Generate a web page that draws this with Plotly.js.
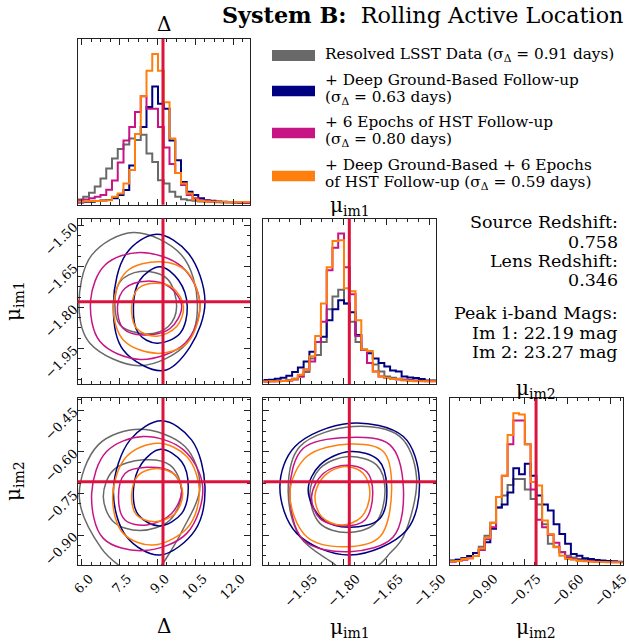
<!DOCTYPE html>
<html><head><meta charset="utf-8">
<script src="https://cdn.plot.ly/plotly-3.0.1.min.js"></script>
<style>html,body{margin:0;padding:0;background:#fff}#chart{width:629px;height:644px}</style>
</head><body><div id="chart"></div>
<script>
// ---------- data ----------
const deltaRange = [5.84, 12.66];
const mu1Range = [-2.080, -1.475];
const mu2Range = [-1.008, -0.406];
const truthDelta = 9.22, truthMu1 = -1.779, truthMu2 = -0.708;

const seriesColors = ['#696969', '#000080', '#c71585', '#ff7f0e'];
const legendLines = [
  ['Resolved LSST Data (σ<sub>Δ</sub> = 0.91 days)'],
  ['+ Deep Ground-Based Follow-up', '(σ<sub>Δ</sub> = 0.63 days)'],
  ['+ 6 Epochs of HST Follow-up', '(σ<sub>Δ</sub> = 0.80 days)'],
  ['+ Deep Ground-Based + 6 Epochs', 'of HST Follow-up (σ<sub>Δ</sub> = 0.59 days)']
];
const infoLines = ['Source Redshift:', '0.758', 'Lens Redshift:', '0.346', 'Peak i-band Mags:', 'Im 1: 22.19 mag', 'Im 2: 23.27 mag'];

// 1D histograms (30 bins across each axis range), relative heights
const histDeltaGray    = [3.5,5.3,8,12,17.4,24,30.6,37,40,44,43,46.5,34,28.4,16.3,14,8.6,5.3,3.7,3,2.6,2.2,2,1.8,1.6,1.5,1.4,1.3,1.2,1.2];
const histDeltaNavy    = [1.5,1.8,2,2.4,2.8,3.2,4.2,6.4,9.7,26,47,51.5,64.8,78.4,67,63.7,42.7,29.5,15,8.6,6.4,4.2,3,2.6,2.2,2,1.8,1.8,1.6,1.5];
const histDeltaMagenta = [3,3.5,4.2,5.3,6.4,10,16,28,42.7,51.5,61.5,72,63.7,63.7,51.5,38,27,21,13,6.4,4.2,3,2.6,2.2,2,1.8,1.6,1.5,1.4,1.3];
const histDeltaOrange  = [2,2.2,2.4,2.4,2.6,3,5.3,7.5,14,23,47,72,89,100,89,68,44,21,14,7.5,3.5,2.4,2.2,2,2,1.8,1.8,1.8,1.8,1.8];

const histMu1Gray    = [1.6,1.8,2,2.2,2.6,3.5,5,8,17,19.4,28,50,58.5,63,53.7,41.5,28,23,14,13,8.4,5,4.2,3.5,3,2.6,2.4,2.2,2,2];
const histMu1Navy    = [2.6,2.9,3.5,4.2,5.5,8,11,15,21.6,28,31.6,42.6,50,56,53.7,48,32.7,22.7,20.5,17,14,11.7,9,8.4,5,4.4,4,3.3,2.4,2.4];
const histMu1Magenta = [1.6,1.8,1.8,2,2.2,3,5,9.7,15,28,41.5,76,91,100.5,78,60,32,22.7,14,8.4,5,4,3.3,3,2.6,2.4,2.2,2,1.8,1.8];
const histMu1Orange  = [1.6,1.8,1.8,2,2.4,3.5,6.2,9.5,18.5,32,53.7,78,95.6,96,64,62,42.6,23,22,8.4,5,4,3.3,3.3,2.4,2,1.8,1.8,1.8,1.8];

const histMu2Gray    = [2.6,3.5,4.4,6,8,12,19.4,28,38,46,53,57,57,50,43.7,40,27,14,12,8.6,6.2,5,4,3.5,3,2.6,2.4,2.2,2,2];
const histMu2Navy    = [3,3.5,4.4,6,8,10,15,24,38,40,48,64,60,67,59,46,40,36,27,20.5,14,7.3,6.2,4.4,4,3.3,3,2.6,2.4,2.2];
const histMu2Magenta = [2.2,2.6,3.5,4.4,6,10,17,25,45,59,80,95.6,95.6,80,50,30,25,20,14.8,8.4,5,4,3,2.6,2.4,2.2,2,2,1.8,1.8];
const histMu2Orange  = [2.4,2.6,4,4.4,6,11,18,28,45,59,86,100.5,99.6,80,55,52.6,29.4,20.5,11.7,6.2,4,3.5,2.6,2.4,2.2,2,2,1.8,1.8,1.8];

// 2D contours, [x, y] in data units (Δ vs μim1)
const dm1GrayOuter    = [[10.58,-1.785],[9.96,-1.609],[8.05,-1.526],[6.40,-1.609],[5.90,-1.797],[6.33,-1.931],[8.31,-2.013],[10.16,-1.931]];
const dm1GrayInner    = [[9.76,-1.797],[9.37,-1.694],[8.31,-1.669],[7.52,-1.706],[7.32,-1.791],[7.52,-1.864],[8.58,-1.897],[9.43,-1.870]];
const dm1NavyOuter    = [[10.88,-1.779],[10.22,-1.602],[8.97,-1.533],[7.78,-1.602],[7.26,-1.785],[7.65,-1.956],[9.23,-2.031],[10.29,-1.944]];
const dm1NavyInner    = [[10.18,-1.797],[9.83,-1.700],[9.10,-1.651],[8.31,-1.700],[8.05,-1.797],[8.25,-1.895],[8.97,-1.931],[9.89,-1.895]];
const dm1MagentaOuter = [[10.68,-1.785],[9.96,-1.651],[8.31,-1.599],[6.93,-1.645],[6.36,-1.773],[6.73,-1.925],[8.31,-1.990],[10.09,-1.931]];
const dm1MagentaInner = [[9.96,-1.797],[9.50,-1.727],[8.58,-1.704],[7.72,-1.730],[7.42,-1.797],[7.65,-1.877],[8.44,-1.901],[9.50,-1.877]];
const dm1OrangeOuter  = [[10.68,-1.797],[10.16,-1.669],[9.10,-1.633],[7.78,-1.669],[7.26,-1.797],[7.65,-1.919],[8.97,-1.968],[10.16,-1.931]];
const dm1OrangeInner  = [[10.03,-1.797],[9.63,-1.730],[8.97,-1.712],[8.25,-1.730],[7.98,-1.797],[8.18,-1.877],[8.97,-1.905],[9.76,-1.870]];

// Δ vs μim2
const dm2GrayOuter    = [[10.68,-0.726],[10.09,-0.581],[8.31,-0.519],[6.66,-0.575],[5.91,-0.762],[6.80,-0.950],[7.62,-1.020],[8.35,-1.070],[9.10,-1.015],[9.55,-0.954],[9.95,-0.890]];
const dm2GrayInner    = [[9.96,-0.738],[9.50,-0.648],[8.44,-0.629],[7.26,-0.666],[6.86,-0.762],[7.26,-0.852],[8.31,-0.884],[9.50,-0.846]];
const dm2NavyOuter    = [[10.88,-0.726],[10.35,-0.557],[9.17,-0.488],[7.92,-0.557],[7.26,-0.738],[7.78,-0.906],[9.10,-0.972],[10.49,-0.882]];
const dm2NavyInner    = [[10.22,-0.726],[9.96,-0.636],[9.13,-0.591],[8.38,-0.642],[8.05,-0.738],[8.25,-0.828],[9.10,-0.867],[9.96,-0.822]];
const dm2MagentaOuter = [[10.79,-0.726],[10.03,-0.593],[8.44,-0.545],[6.99,-0.599],[6.40,-0.750],[6.86,-0.912],[8.44,-0.956],[10.16,-0.894]];
const dm2MagentaInner = [[9.96,-0.738],[9.56,-0.672],[8.58,-0.656],[7.72,-0.678],[7.46,-0.762],[7.72,-0.846],[8.58,-0.864],[9.56,-0.822]];
const dm2OrangeOuter  = [[10.66,-0.738],[10.16,-0.617],[9.04,-0.569],[7.78,-0.617],[7.23,-0.762],[7.65,-0.894],[8.84,-0.936],[10.22,-0.870]];
const dm2OrangeInner  = [[10.00,-0.750],[9.70,-0.684],[8.97,-0.660],[8.25,-0.684],[7.98,-0.756],[8.18,-0.828],[8.90,-0.852],[9.70,-0.822]];

// μim1 vs μim2
const m12GrayOuter    = [[-1.544,-0.690],[-1.602,-0.545],[-1.765,-0.509],[-1.952,-0.581],[-1.993,-0.738],[-1.952,-0.906],[-1.835,-1.002],[-1.765,-1.050],[-1.683,-1.014],[-1.637,-0.966],[-1.590,-0.906]];
const m12GrayInner    = [[-1.654,-0.738],[-1.683,-0.648],[-1.783,-0.617],[-1.882,-0.660],[-1.917,-0.750],[-1.882,-0.858],[-1.788,-0.891],[-1.689,-0.858]];
const m12NavyOuter    = [[-1.534,-0.702],[-1.590,-0.545],[-1.777,-0.497],[-1.969,-0.581],[-2.022,-0.726],[-1.963,-0.894],[-1.777,-0.972],[-1.578,-0.882]];
const m12NavyInner    = [[-1.648,-0.726],[-1.678,-0.629],[-1.777,-0.599],[-1.882,-0.648],[-1.923,-0.738],[-1.876,-0.840],[-1.777,-0.872],[-1.672,-0.840]];
const m12MagentaOuter = [[-1.590,-0.726],[-1.637,-0.575],[-1.777,-0.548],[-1.940,-0.587],[-1.987,-0.738],[-1.940,-0.918],[-1.777,-0.960],[-1.625,-0.906]];
const m12MagentaInner = [[-1.697,-0.750],[-1.718,-0.672],[-1.788,-0.648],[-1.870,-0.678],[-1.911,-0.762],[-1.882,-0.840],[-1.800,-0.867],[-1.724,-0.846]];
const m12OrangeOuter  = [[-1.631,-0.738],[-1.660,-0.599],[-1.777,-0.572],[-1.928,-0.617],[-1.987,-0.750],[-1.928,-0.906],[-1.788,-0.942],[-1.672,-0.906]];
const m12OrangeInner  = [[-1.707,-0.750],[-1.730,-0.678],[-1.794,-0.653],[-1.864,-0.684],[-1.899,-0.756],[-1.876,-0.834],[-1.806,-0.864],[-1.736,-0.834]];

// ---------- drawing ----------
const FONT = 'DejaVu Serif';
const W = 629, H = 644;
const px = X => X / W, py = Y => 1 - Y / H;
const TRUTH = '#dc143c';
const traces = [];

function stepTrace(counts, range, color, xa, ya) {
  const w = (range[1] - range[0]) / counts.length;
  const xs = [], ys = [];
  counts.forEach((c, i) => { xs.push(range[0] + i * w); ys.push(c); });
  xs.push(range[1]); ys.push(counts[counts.length - 1]);
  return {type: 'scatter', mode: 'lines', x: xs, y: ys, xaxis: xa, yaxis: ya,
    line: {shape: 'hv', color: color, width: 2}, hoverinfo: 'skip', showlegend: false};
}
function contourTrace(pts, color, xa, ya) {
  const all = pts.concat([pts[0]]);
  return {type: 'scatter', mode: 'lines', x: all.map(p => p[0]), y: all.map(p => p[1]),
    xaxis: xa, yaxis: ya, line: {shape: 'spline', smoothing: 1, color: color, width: 1.5},
    hoverinfo: 'skip', showlegend: false};
}

[histDeltaGray, histDeltaNavy, histDeltaMagenta, histDeltaOrange].forEach((h, i) => traces.push(stepTrace(h, deltaRange, seriesColors[i], 'x', 'y')));
[histMu1Gray, histMu1Navy, histMu1Magenta, histMu1Orange].forEach((h, i) => traces.push(stepTrace(h, mu1Range, seriesColors[i], 'x3', 'y3')));
[histMu2Gray, histMu2Navy, histMu2Magenta, histMu2Orange].forEach((h, i) => traces.push(stepTrace(h, mu2Range, seriesColors[i], 'x6', 'y6')));

[[dm1GrayOuter, dm1GrayInner], [dm1NavyOuter, dm1NavyInner], [dm1MagentaOuter, dm1MagentaInner], [dm1OrangeOuter, dm1OrangeInner]]
  .forEach((cs, i) => cs.forEach(c => traces.push(contourTrace(c, seriesColors[i], 'x2', 'y2'))));
[[dm2GrayOuter, dm2GrayInner], [dm2NavyOuter, dm2NavyInner], [dm2MagentaOuter, dm2MagentaInner], [dm2OrangeOuter, dm2OrangeInner]]
  .forEach((cs, i) => cs.forEach(c => traces.push(contourTrace(c, seriesColors[i], 'x4', 'y4'))));
[[m12GrayOuter, m12GrayInner], [m12NavyOuter, m12NavyInner], [m12MagentaOuter, m12MagentaInner], [m12OrangeOuter, m12OrangeInner]]
  .forEach((cs, i) => cs.forEach(c => traces.push(contourTrace(c, seriesColors[i], 'x5', 'y5'))));

const maxOf = arrs => Math.max(...arrs.map(a => Math.max(...a)));
const yMaxDelta = 1.1 * maxOf([histDeltaGray, histDeltaNavy, histDeltaMagenta, histDeltaOrange]);
const yMaxMu1 = 1.1 * maxOf([histMu1Gray, histMu1Navy, histMu1Magenta, histMu1Orange]);
const yMaxMu2 = 1.1 * maxOf([histMu2Gray, histMu2Navy, histMu2Magenta, histMu2Orange]);

const colX = [[77.5, 250], [263.3, 436.2], [450, 622.7]].map(d => [px(d[0]), px(d[1])]);
const rowY = [[204.7, 39], [384, 218.5], [565, 398]].map(d => [py(d[0]), py(d[1])]);

const tickDefs = {
  delta: {tick0: 6, dtick: 1.5, tickformat: '.1f', minor: 0.375, shift: 8},
  mu1: {tick0: -1.95, dtick: 0.15, tickformat: '.2f', minor: 0.0375, shift: 13},
  mu2: {tick0: -0.9, dtick: 0.15, tickformat: '.2f', minor: 0.0375, shift: 13}
};
function axis(domain, anchor, range, kind, labels, isX) {
  const t = tickDefs[kind];
  const a = {domain: domain, anchor: anchor, range: range, showline: true, linecolor: '#222', linewidth: 1,
    mirror: 'allticks', ticks: 'inside', ticklen: 6, tickwidth: 1, tickcolor: '#222',
    showgrid: false, zeroline: false, fixedrange: true,
    tickmode: 'linear', tick0: t.tick0, dtick: t.dtick, tickformat: t.tickformat,
    minor: {ticks: 'inside', ticklen: 3, tickcolor: '#222', tick0: t.tick0, dtick: t.minor, showgrid: false},
    showticklabels: labels, tickangle: -45, ticklabeloverflow: 'allow',
    tickfont: {family: FONT, size: 13, color: '#000'}};
  if (labels && isX) { a.ticklabelshift = t.shift; a.ticklabelstandoff = 0; }
  return a;
}
function histY(domain, anchor, ymax) {
  return {domain: domain, anchor: anchor, range: [0, ymax], showline: true, linecolor: '#222', linewidth: 1,
    mirror: true, ticks: '', showticklabels: false, showgrid: false, zeroline: false, fixedrange: true};
}

const layout = {
  width: W, height: H, margin: {l: 0, r: 0, t: 0, b: 0}, paper_bgcolor: '#fff', plot_bgcolor: '#fff',
  showlegend: false, font: {family: FONT, color: '#000'},
  xaxis:  axis(colX[0], 'y',  deltaRange, 'delta', false, true),
  yaxis:  histY(rowY[0], 'x', yMaxDelta),
  xaxis2: axis(colX[0], 'y2', deltaRange, 'delta', false, true),
  yaxis2: axis(rowY[1], 'x2', mu1Range, 'mu1', true, false),
  xaxis3: axis(colX[1], 'y3', mu1Range, 'mu1', false, true),
  yaxis3: histY(rowY[1], 'x3', yMaxMu1),
  xaxis4: axis(colX[0], 'y4', deltaRange, 'delta', true, true),
  yaxis4: axis(rowY[2], 'x4', mu2Range, 'mu2', true, false),
  xaxis5: axis(colX[1], 'y5', mu1Range, 'mu1', true, true),
  yaxis5: axis(rowY[2], 'x5', mu2Range, 'mu2', false, false),
  xaxis6: axis(colX[2], 'y6', mu2Range, 'mu2', true, true),
  yaxis6: histY(rowY[2], 'x6', yMaxMu2),
  shapes: [], annotations: []
};

function vTruth(xa, ya, v) { layout.shapes.push({type: 'line', xref: xa, yref: ya + ' domain', x0: v, x1: v, y0: 0, y1: 1, line: {color: TRUTH, width: 3}, layer: 'above'}); }
function hTruth(xa, ya, v) { layout.shapes.push({type: 'line', xref: xa + ' domain', yref: ya, x0: 0, x1: 1, y0: v, y1: v, line: {color: TRUTH, width: 3}, layer: 'above'}); }
vTruth('x', 'y', truthDelta);
vTruth('x2', 'y2', truthDelta); hTruth('x2', 'y2', truthMu1);
vTruth('x3', 'y3', truthMu1);
vTruth('x4', 'y4', truthDelta); hTruth('x4', 'y4', truthMu2);
vTruth('x5', 'y5', truthMu1); hTruth('x5', 'y5', truthMu2);
vTruth('x6', 'y6', truthMu2);

function ann(text, X, Y, size, o) {
  layout.annotations.push(Object.assign({text: text, x: px(X), y: py(Y), xref: 'paper', yref: 'paper',
    showarrow: false, xanchor: 'center', yanchor: 'middle', font: {family: FONT, size: size, color: '#000'}}, o || {}));
}
// title
ann('<b>System B:</b>\u00a0\u00a0Rolling Active Location', 625, 15, 22.3, {xanchor: 'right'});
// panel titles
ann('Δ', 163.7, 24, 20);
ann('μ<sub>im1</sub>', 349.7, 206, 20);
ann('μ<sub>im2</sub>', 536.3, 389, 20);
// axis labels
ann('Δ', 163.7, 626, 20);
ann('μ<sub>im1</sub>', 349.7, 628, 20);
ann('μ<sub>im2</sub>', 536.3, 628, 20);
ann('μ<sub>im1</sub>', 14, 301, 20, {textangle: -90});
ann('μ<sub>im2</sub>', 14, 481, 20, {textangle: -90});

// legend
const legendRectY = [[50, 61], [85.7, 96.3], [127.7, 138.3], [170.7, 181.3]];
const legendTextY = [[55], [80, 98], [122, 140], [165, 182.5]];
legendLines.forEach((lines, i) => {
  layout.shapes.push({type: 'rect', xref: 'paper', yref: 'paper', x0: px(272), x1: px(315),
    y0: py(legendRectY[i][1]), y1: py(legendRectY[i][0]), fillcolor: seriesColors[i], line: {width: 0}});
  lines.forEach((t, j) => ann(t, 322.5, legendTextY[i][j], 15.3, {xanchor: 'left'}));
});
// info text
const infoY = [221.7, 241.7, 261, 280.5, 312.7, 332.7, 352.3];
infoLines.forEach((t, i) => ann(t, 619.5, infoY[i], 17.5, {xanchor: 'right'}));

Plotly.newPlot('chart', traces, layout, {staticPlot: true, displayModeBar: false});
</script></body></html>
